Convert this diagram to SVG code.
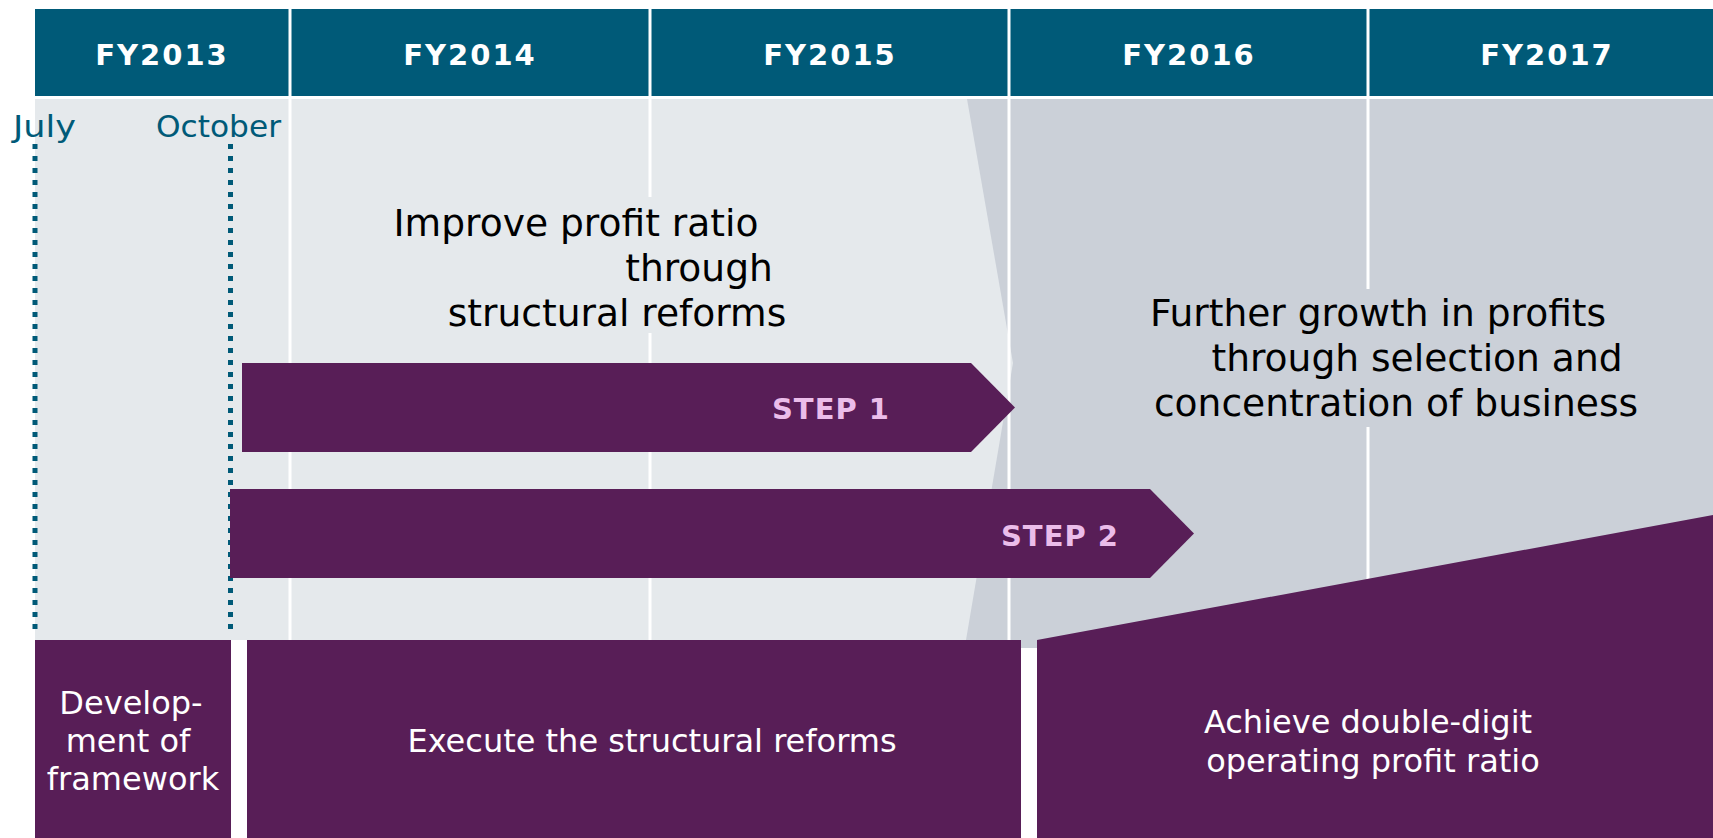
<svg xmlns="http://www.w3.org/2000/svg" width="1713" height="838" viewBox="0 0 1713 838">
  <style>
    .hdr { fill: #005A78; }
    .hdrtxt { font-family: "DejaVu Sans", "Liberation Sans", sans-serif; font-weight: bold; font-size: 29px; fill: #FFFFFF; text-anchor: middle; letter-spacing: 2px; }
    .month { font-family: "DejaVu Sans", "Liberation Sans", sans-serif; font-size: 31px; fill: #005A78; }
    .div { stroke: #FFFFFF; stroke-width: 3; }
    .dots { stroke: #005A78; stroke-width: 5; stroke-dasharray: 5 7; fill: none; }
    .purple { fill: #581E57; }
    .steptxt { font-family: "DejaVu Sans", "Liberation Sans", sans-serif; font-weight: bold; font-size: 29px; fill: #EBBDEA; text-anchor: middle; letter-spacing: 1px; }
    .big { font-family: "DejaVu Sans", "Liberation Sans", sans-serif; font-size: 37.6px; fill: #000000; text-anchor: middle; }
    .box { font-family: "DejaVu Sans", "Liberation Sans", sans-serif; font-size: 32px; fill: #FFFFFF; text-anchor: middle; }
  </style>
  <rect x="0" y="0" width="1713" height="838" fill="#FFFFFF"/>

  <g id="background">
    <rect x="960" y="99" width="753" height="549" fill="#CBD0D8"/>
    <polygon points="35,99 967,99 1013,363 966,640 35,640" fill="#E5E9EC"/>
  </g>

  <g id="header">
    <rect class="hdr" x="35" y="9" width="1678" height="87"/>
    <text class="hdrtxt" x="162" y="65">FY2013</text>
    <text class="hdrtxt" x="470" y="65">FY2014</text>
    <text class="hdrtxt" x="830" y="65">FY2015</text>
    <text class="hdrtxt" x="1189" y="65">FY2016</text>
    <text class="hdrtxt" x="1547" y="65">FY2017</text>
    <rect x="35" y="96" width="1678" height="3" fill="#FFFFFF"/>
  </g>

  <g id="column-dividers">
    <line class="div" x1="290" y1="9" x2="290" y2="640"/>
    <line class="div" x1="650" y1="9" x2="650" y2="640"/>
    <line class="div" x1="1009" y1="9" x2="1009" y2="640"/>
    <line class="div" x1="1368" y1="9" x2="1368" y2="640"/>
  </g>

  <g id="months">
    <text class="month" x="13" y="137" textLength="63" lengthAdjust="spacingAndGlyphs">July</text>
    <text class="month" x="156" y="137" textLength="125" lengthAdjust="spacingAndGlyphs">October</text>
  </g>

  <g id="connectors">
    <line class="dots" x1="35" y1="144" x2="35" y2="630"/>
    <line class="dots" x1="230.5" y1="144" x2="230.5" y2="630"/>
  </g>

  <g id="phase1-label">
    <rect x="380" y="197" width="415" height="136" fill="#E5E9EC"/>
    <text class="big" x="576" y="236">Improve profit ratio</text>
    <text class="big" x="699" y="281">through</text>
    <text class="big" x="617" y="326">structural reforms</text>
  </g>

  <g id="phase2-label">
    <rect x="1140" y="289" width="505" height="138" fill="#CBD0D8"/>
    <text class="big" x="1378" y="326">Further growth in profits</text>
    <text class="big" x="1417" y="371">through selection and</text>
    <text class="big" x="1396" y="416">concentration of business</text>
  </g>

  <g id="step1">
    <polygon class="purple" points="242,363 971,363 1015,407.5 971,452 242,452"/>
    <text class="steptxt" x="831" y="419">STEP 1</text>
  </g>

  <g id="step2">
    <polygon class="purple" points="230,489 1150,489 1194,533.5 1150,578 230,578"/>
    <text class="steptxt" x="1060" y="546">STEP 2</text>
  </g>

  <g id="box-framework">
    <rect class="purple" x="35" y="640" width="196" height="198"/>
    <text class="box" x="131" y="714">Develop-</text>
    <text class="box" x="128" y="752">ment of</text>
    <text class="box" x="133" y="790">framework</text>
  </g>

  <g id="box-execute">
    <rect class="purple" x="247" y="640" width="774" height="198"/>
    <text class="box" x="652" y="752">Execute the structural reforms</text>
  </g>

  <g id="box-achieve">
    <polygon class="purple" points="1037,640 1713,515 1713,838 1037,838"/>
    <text class="box" x="1368" y="733">Achieve double-digit</text>
    <text class="box" x="1373" y="772">operating profit ratio</text>
  </g>
</svg>
